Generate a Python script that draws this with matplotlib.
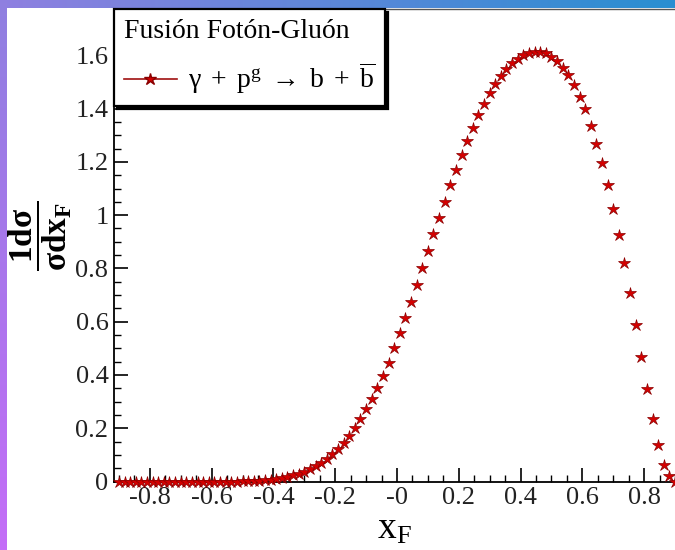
import numpy as np
import matplotlib
matplotlib.use("Agg")
import matplotlib.pyplot as plt
from matplotlib.lines import Line2D

plt.rcParams['font.family'] = ['Liberation Serif', 'DejaVu Serif']
plt.rcParams['mathtext.fontset'] = 'custom'
plt.rcParams['mathtext.rm'] = 'Liberation Serif'
plt.rcParams['mathtext.it'] = 'Liberation Serif'
plt.rcParams['mathtext.bf'] = 'Liberation Serif:bold'

# ---- data ----
x_F = [-0.9, -0.8818, -0.8636, -0.8455, -0.8273, -0.8091, -0.7909, -0.7727, -0.7545, -0.7364,
       -0.7182, -0.7, -0.6818, -0.6636, -0.6455, -0.6273, -0.6091, -0.5909, -0.5727, -0.5545,
       -0.5364, -0.5182, -0.5, -0.4818, -0.4636, -0.4455, -0.4273, -0.4091, -0.3909, -0.3727,
       -0.3545, -0.3364, -0.3182, -0.3, -0.2818, -0.2636, -0.2455, -0.2273, -0.2091, -0.1909,
       -0.1727, -0.1545, -0.1364, -0.1182, -0.1, -0.0818, -0.0636, -0.0455, -0.0273, -0.0091,
       0.0091, 0.0273, 0.0455, 0.0636, 0.0818, 0.1, 0.1182, 0.1364, 0.1545, 0.1727,
       0.1909, 0.2091, 0.2273, 0.2455, 0.2636, 0.2818, 0.3, 0.3182, 0.3364, 0.3545,
       0.3727, 0.3909, 0.4091, 0.4273, 0.4455, 0.4636, 0.4818, 0.5, 0.5182, 0.5364,
       0.5545, 0.5727, 0.5909, 0.6091, 0.6273, 0.6455, 0.6636, 0.6818, 0.7, 0.7182,
       0.7364, 0.7545, 0.7727, 0.7909, 0.8091, 0.8273, 0.8455, 0.8636, 0.8818, 0.9]
dsigma = [0.0, 0.0, 0.0, 0.0, 0.0, 0.0, 0.0, 0.0, 0.0, 0.0,
          0.0, 0.0, 0.0, 0.0, 0.0, 0.0, 0.0, 0.0, 0.0, 0.0,
          0.0, 0.0, 0.001, 0.001, 0.002, 0.003, 0.005, 0.007, 0.010, 0.014,
          0.018, 0.023, 0.029, 0.037, 0.046, 0.058, 0.070, 0.084, 0.102, 0.121,
          0.146, 0.171, 0.202, 0.233, 0.271, 0.308, 0.350, 0.396, 0.446, 0.500,
          0.556, 0.615, 0.675, 0.737, 0.800, 0.865, 0.928, 0.990, 1.050, 1.113,
          1.169, 1.225, 1.279, 1.328, 1.375, 1.419, 1.459, 1.494, 1.524, 1.549,
          1.570, 1.587, 1.600, 1.608, 1.612, 1.613, 1.607, 1.595, 1.578, 1.553,
          1.528, 1.490, 1.445, 1.399, 1.336, 1.269, 1.196, 1.113, 1.023, 0.925,
          0.819, 0.706, 0.587, 0.466, 0.347, 0.235, 0.137, 0.062, 0.021, 0.0]

xticks = [-0.8, -0.6, -0.4, -0.2, 0.0, 0.2, 0.4, 0.6, 0.8]
xticklabels = ["-0.8", "-0.6", "-0.4", "-0.2", "-0", "0.2", "0.4", "0.6", "0.8"]
yticks = [0, 0.2, 0.4, 0.6, 0.8, 1.0, 1.2, 1.4, 1.6]
yticklabels = ["0", "0.2", "0.4", "0.6", "0.8", "1", "1.2", "1.4", "1.6"]
legend_title = "Fusión Fotón-Gluón"
series_label = (r"$\gamma\;+\;\mathrm{p}^{\mathrm{g}}\;\rightarrow\;\mathrm{b}\;+\;"
                r"\overline{\mathrm{b}}$")

W, H = 675, 550
fig = plt.figure(figsize=(W / 100, H / 100), dpi=100, facecolor='white')

# decorative gradient frame (top strip and left strip)
img = np.ones((H, W, 3))
top_h, left_w = 8, 7
tx = np.linspace(0, 1, W)[None, :, None]
c_left = np.array([0.56, 0.50, 0.88])
c_right = np.array([0.16, 0.56, 0.82])
img[:top_h, :, :] = (1 - tx) * c_left + tx * c_right
ty = np.linspace(0, 1, H)[:, None, None]
c_top = np.array([0.56, 0.50, 0.88])
c_bot = np.array([0.77, 0.43, 0.97])
img[:, :left_w, :] = ((1 - ty) * c_top + ty * c_bot)[:, :, :]
bg = fig.add_axes([0, 0, 1, 1], zorder=-5)
bg.imshow(img, aspect='auto', extent=(0, 1, 0, 1), interpolation='bilinear')
bg.axis('off')

ax = fig.add_axes([114 / W, (H - 481.5) / H, (W - 114) / W, (481.5 - 9) / H])
ax.set_facecolor('white')

ax.plot(x_F, dsigma, linestyle='none', marker='*', markersize=9,
        markerfacecolor='#d40000', markeredgecolor='#8a0000', markeredgewidth=0.5,
        clip_on=False, zorder=3)

ax.set_xlim(-0.916, 0.897)
ax.set_ylim(0, 1.774)
ax.set_xticks(xticks)
ax.set_xticklabels(xticklabels)
ax.set_yticks(yticks)
ax.set_yticklabels(yticklabels)
ax.set_xticks(np.arange(-0.9, 0.91, 0.05), minor=True)
ax.set_yticks(np.arange(0, 1.75, 0.05), minor=True)
ax.tick_params(which='major', direction='in', length=10, width=1.2, labelsize=19,
               labelcolor='#222222', pad=4)
ax.tick_params(which='minor', direction='in', length=5, width=1.0)
ax.tick_params(axis='y', which='both', right=False)
ax.tick_params(axis='x', which='both', top=False)
ax.spines['right'].set_visible(False)
for s in ['left', 'bottom']:
    ax.spines[s].set_linewidth(1.3)
ax.spines['top'].set_linewidth(1.0)
ax.spines['top'].set_color('#555555')

ax.set_xlabel(r"$\mathrm{x}_{\mathrm{F}}$", fontsize=27, labelpad=2)
ax.set_ylabel(r"$\dfrac{\mathbf{1d\sigma}}{\mathbf{\sigma dx_{F}}}$", fontsize=24)
ax.yaxis.set_label_coords(-0.072, 0.52)

handle = Line2D([], [], color='#a01010', linewidth=1.2, marker='*', markersize=9,
                markerfacecolor='#d40000', markeredgecolor='#8a0000')
leg = ax.legend([handle], [series_label], title=legend_title, loc='upper left',
                bbox_to_anchor=(0, 1), borderaxespad=0, fontsize=20,
                title_fontsize=20, frameon=True, fancybox=False,
                shadow={'color': 'black', 'alpha': 1.0}, handlelength=1.9,
                handletextpad=0.4, borderpad=0.35, alignment='left',
                labelspacing=0.6)
leg.get_frame().set_edgecolor('black')
leg.get_frame().set_linewidth(1.6)
leg.set_zorder(10)

fig.savefig("out.png", dpi=100)
